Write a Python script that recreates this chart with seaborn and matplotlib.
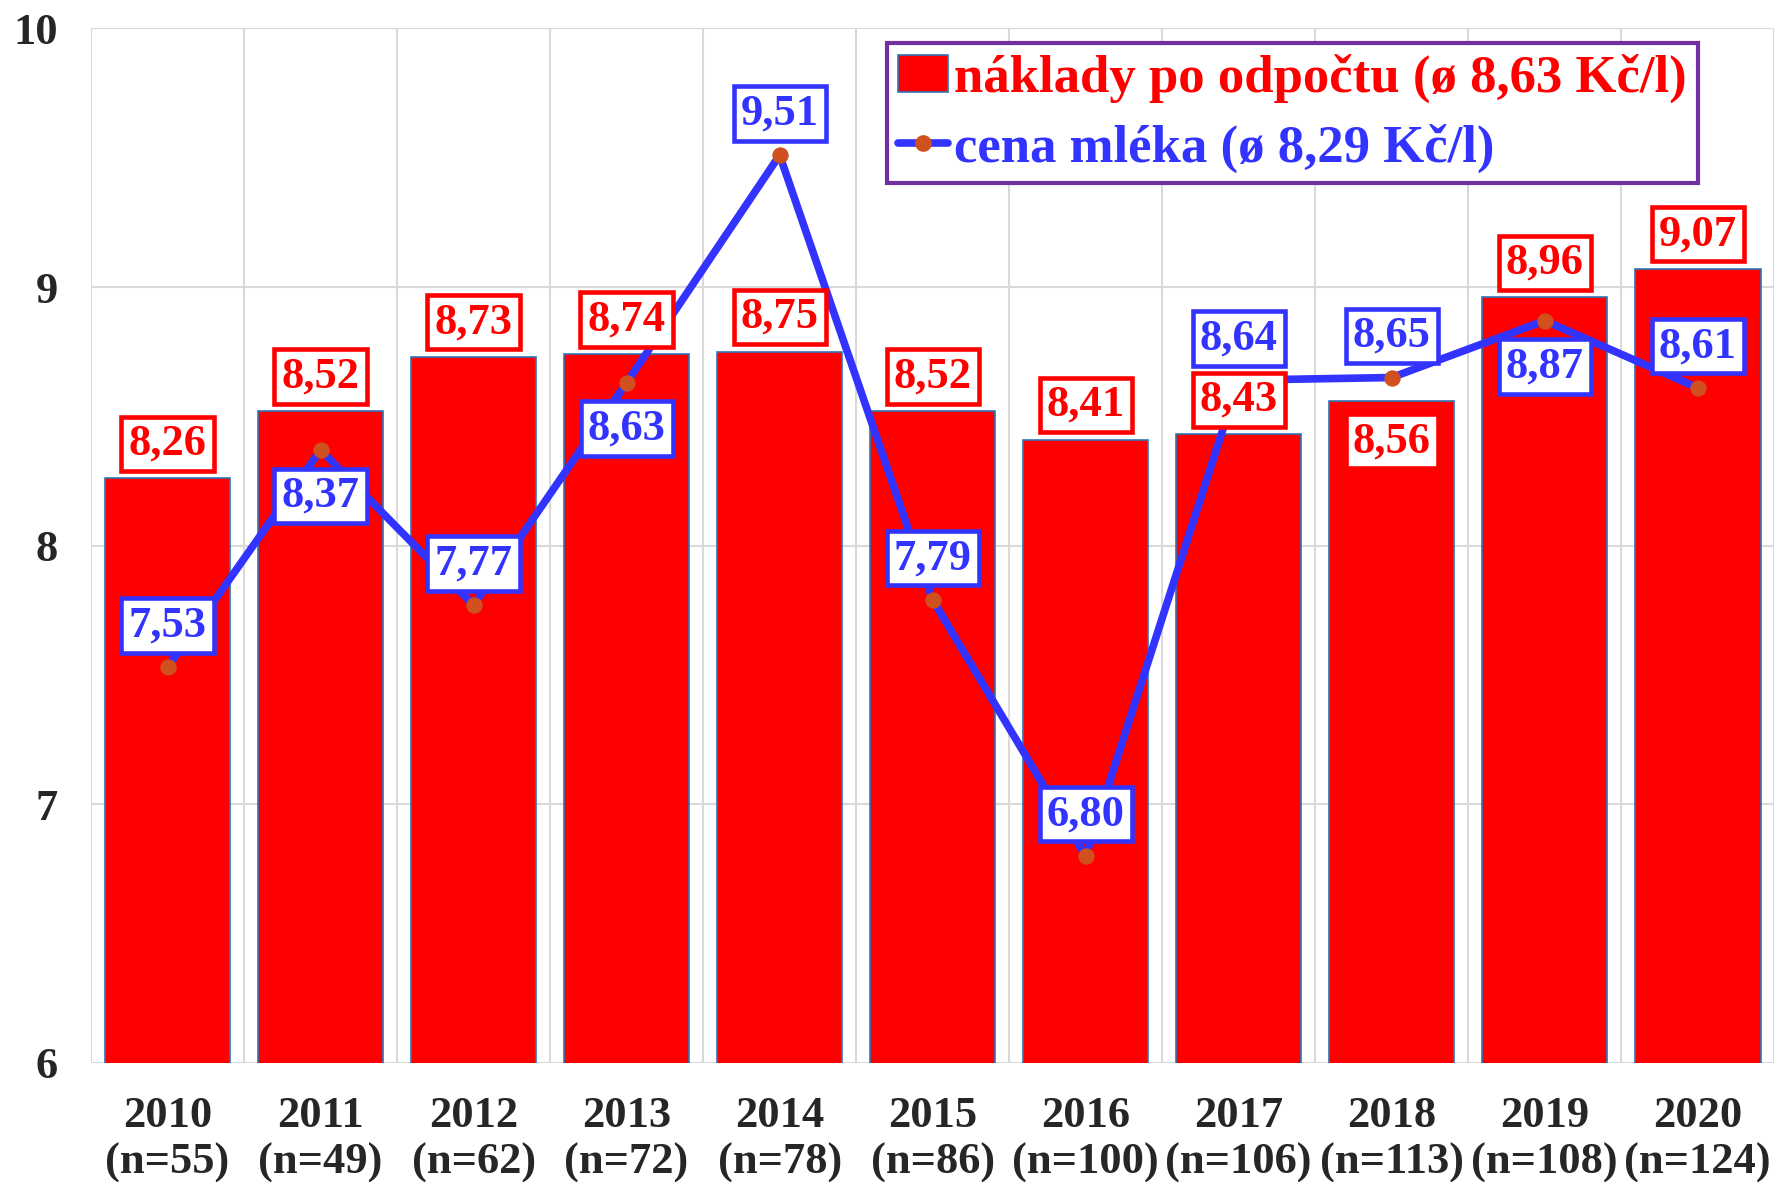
import numpy as np
import pandas as pd
import seaborn as sns
import matplotlib.pyplot as plt
from matplotlib.patches import Patch
from matplotlib.lines import Line2D

years = ['2010', '2011', '2012', '2013', '2014', '2015', '2016', '2017', '2018', '2019', '2020']
counts = [55, 49, 62, 72, 78, 86, 100, 106, 113, 108, 124]
costs = [8.26, 8.52, 8.73, 8.74, 8.75, 8.52, 8.41, 8.43, 8.56, 8.96, 9.07]
milk = [7.53, 8.37, 7.77, 8.63, 9.51, 7.79, 6.80, 8.64, 8.65, 8.87, 8.61]
# label placement: +1 above the mark, -1 below
cost_side = [1, 1, 1, 1, 1, 1, 1, 1, -1, 1, 1]
milk_side = [1, -1, 1, -1, 1, 1, 1, 1, 1, -1, 1]

RED = '#FF0000'
BLUE = '#3333FF'
DOT = '#D0501E'

sns.set_style('white')
plt.rcParams['font.family'] = ['Liberation Serif', 'DejaVu Serif']
plt.rcParams['font.weight'] = 'bold'

xlabels = [f'{y}\n(n={n})' for y, n in zip(years, counts)]
df = pd.DataFrame({'label': xlabels, 'cost': costs, 'milk': milk})

fig, ax = plt.subplots(figsize=(17.85, 11.82), dpi=100)
fig.subplots_adjust(left=0.051, right=0.994, top=0.976, bottom=0.1007)

sns.barplot(data=df, x='label', y='cost', color=RED, saturation=1, width=0.82,
            edgecolor='#2E75B6', linewidth=1.2, ax=ax, zorder=2)
sns.lineplot(x=np.arange(len(milk)), y=milk, color=BLUE, linewidth=5.5,
             marker='o', markersize=11, markerfacecolor=DOT, markeredgecolor=DOT,
             ax=ax, zorder=3)

ax.set_ylim(6, 10)
ax.set_xlim(-0.5, 10.5)
ax.set_yticks([6, 7, 8, 9, 10])
ax.set_xticks(np.arange(-0.5, 11, 1), minor=True)
ax.grid(False)
ax.grid(axis='y', which='major', color='#D9D9D9', linewidth=1.5, zorder=0)
ax.grid(axis='x', which='minor', color='#D9D9D9', linewidth=1.5, zorder=0)
ax.set_axisbelow(True)
for s in ax.spines.values():
    s.set_visible(False)
ax.set_xlabel('')
ax.set_ylabel('')
ax.tick_params(axis='both', which='both', length=0)
ax.tick_params(axis='y', labelsize=32, pad=24)
ax.tick_params(axis='x', labelsize=32, pad=24)
for t in ax.get_xticklabels():
    t.set_linespacing(1.2)
    t.set_fontweight('bold')
for t in ax.get_yticklabels():
    t.set_fontweight('bold')


def fmt(v):
    return f'{v:.2f}'.replace('.', ',')


for i, (v, s) in enumerate(zip(costs, cost_side)):
    off = 25 if s > 0 else -29
    ax.annotate(fmt(v), (i, v), xytext=(0, off), textcoords='offset points',
                ha='center', va='center', fontsize=32, fontweight='bold', color=RED,
                bbox=dict(boxstyle='square,pad=0.16', fc='white', ec=RED, lw=3.3),
                zorder=5)

for i, (v, s) in enumerate(zip(milk, milk_side)):
    off = 30 if s > 0 else -33
    ax.annotate(fmt(v), (i, v), xytext=(0, off), textcoords='offset points',
                ha='center', va='center', fontsize=32, fontweight='bold', color=BLUE,
                bbox=dict(boxstyle='square,pad=0.16', fc='white', ec=BLUE, lw=3.3),
                zorder=6)

handles = [
    Patch(facecolor=RED, edgecolor='#2E75B6', linewidth=1.2),
    Line2D([0], [0], color=BLUE, linewidth=5.5, marker='o', markersize=11,
           markerfacecolor=DOT, markeredgecolor=DOT),
]
leg = ax.legend(handles, ['náklady po odpočtu (ø 8,63 Kč/l)', 'cena mléka (ø 8,29 Kč/l)'],
                loc='upper left', bbox_to_anchor=(0.473, 0.9855), borderaxespad=0,
                handlelength=0.95, handletextpad=0.12, labelspacing=0.38,
                borderpad=0.2, frameon=True, fancybox=False, framealpha=1,
                prop={'weight': 'bold', 'size': 38})
leg.get_frame().set_edgecolor('#7030A0')
leg.get_frame().set_linewidth(3)
leg.set_zorder(10)
for txt, c in zip(leg.get_texts(), [RED, BLUE]):
    txt.set_color(c)

fig.savefig('out.png', dpi=100)
